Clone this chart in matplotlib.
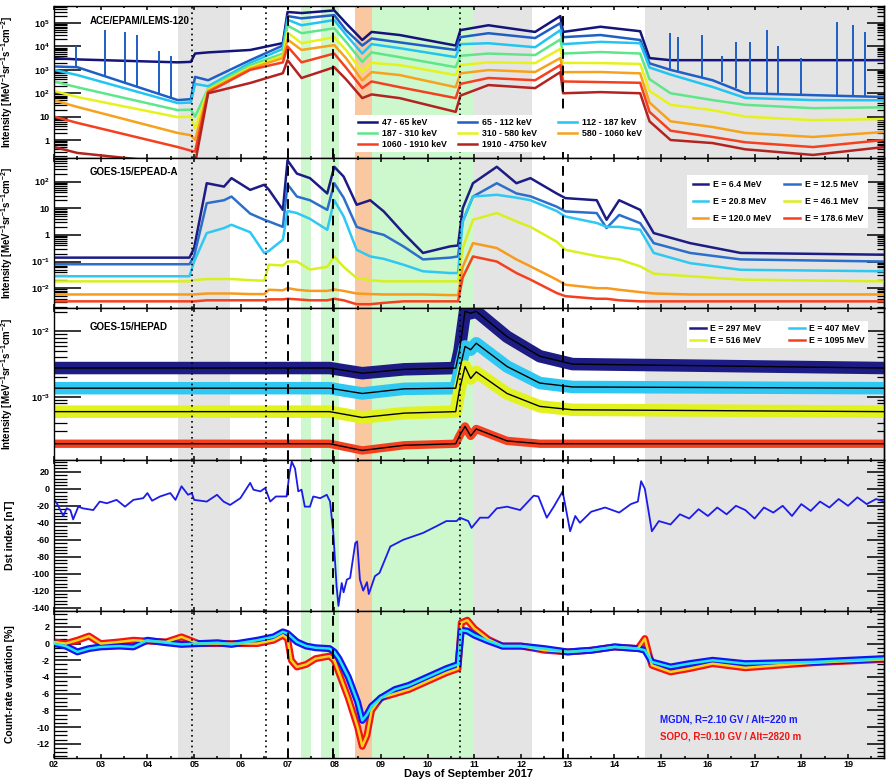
import matplotlib
matplotlib.use('Agg')
import matplotlib.pyplot as plt
from matplotlib.ticker import (FixedLocator, FixedFormatter, LogLocator,
                               MultipleLocator, NullFormatter)

plt.rcParams.update({
    'font.family': ['Liberation Sans', 'DejaVu Sans'],
    'font.weight': 'bold',
    'axes.labelweight': 'bold',
    'axes.unicode_minus': False,
    'mathtext.fontset': 'custom',
    'mathtext.rm': 'Liberation Sans:bold',
    'mathtext.bf': 'Liberation Sans:bold',
    'mathtext.it': 'Liberation Sans:bold',
    'mathtext.default': 'bf',
})

XMIN, XMAX = 2.0, 19.77

# event markers and shaded intervals (days of September 2017)
gray_spans = [(4.66, 5.77), (10.98, 12.23), (14.65, 19.77)]
green_spans = [(7.29, 7.50), (7.72, 8.11), (8.80, 10.98)]
orange_spans = [(8.445, 8.80)]
dotted_days = [4.95, 6.53, 10.69]
dashed_days = [7.02, 7.98, 12.89]

# ---- ACE/EPAM/LEMS-120 ----
ace_days = [2.0, 2.5, 4.65, 4.93, 5.02, 5.3, 6.2, 6.9, 7.0, 7.3, 8.0, 8.25, 8.6,
            8.8, 9.4, 10.6, 10.7, 11.3, 12.3, 12.84, 12.9, 13.7, 14.55, 14.75,
            15.2, 16.1, 16.8, 18.25, 19.77]
ace_labels = ['47 - 65 keV', '65 - 112 keV', '112 - 187 keV', '187 - 310 keV',
              '310 - 580 keV', '580 - 1060 keV', '1060 - 1910 keV', '1910 - 4750 keV']
ace_colors = ['#14147a', '#1f5ec4', '#22c4f2', '#5ee68a',
              '#e6f21e', '#f7a21c', '#f5401f', '#b3231f']
ace_47 = [3200, 2800, 2100, 2200, 5000, 5600, 7100, 14000, 3.0e5, 2.7e5, 3.5e5,
          1.0e5, 19000, 42000, 31000, 11000, 50000, 81000, 42000, 2.0e5, 42000,
          70000, 45000, 3200, 2600, 2600, 2600, 2600, 2600]
ace_65 = [1400, 1300, 51, 56, 500, 360, 2600, 11000, 2.0e5, 1.6e5, 2.2e5, 50000,
          11000, 22000, 15000, 7100, 25000, 37000, 23000, 1.0e5, 25000, 31000,
          19000, 1900, 1000, 360, 100, 83, 69]
ace_112 = [1000, 600, 38, 40, 250, 200, 2000, 7900, 1.4e5, 81000, 1.35e5, 32000,
           5000, 12600, 8500, 3500, 12600, 13800, 9300, 50000, 12600, 15800,
           13800, 1260, 630, 186, 63, 51, 50]
ace_187 = [320, 180, 19, 20, 10, 160, 1600, 5000, 79000, 37000, 60000, 16000,
           2200, 5600, 3500, 1300, 4000, 5000, 4300, 20000, 5000, 5800, 5000,
           400, 100, 51, 32, 23, 25]
ace_310 = [126, 69, 9.5, 10, 3.2, 141, 1260, 4000, 40000, 13800, 25000, 7100,
           810, 2000, 1600, 600, 1600, 2100, 1950, 7900, 2000, 1950, 1800, 126,
           32, 19, 10, 7.1, 7.9]
ace_580 = [50, 26, 2.0, 1.6, 1.0, 126, 1120, 3200, 20000, 7100, 11500, 3200, 355,
           800, 600, 182, 710, 980, 810, 3200, 800, 810, 710, 40, 6.3, 3.6, 2.0,
           1.35, 2.2]
ace_1060 = [10, 5.4, 0.5, 0.35, 0.32, 112, 1000, 2100, 10000, 2100, 5000, 1260,
            166, 320, 182, 62, 250, 450, 360, 1600, 320, 300, 280, 16, 2.5, 1.35,
            0.8, 0.5, 1.0]
ace_1910 = [0.5, 0.28, 0.1, 0.1, 0.1, 100, 275, 720, 2600, 450, 1300, 400, 62, 89,
            62, 16, 79, 224, 166, 800, 100, 112, 100, 6.3, 1.0, 0.74, 0.4, 0.23, 0.5]
ace_spike_days = [2.47, 3.09, 3.52, 3.78, 4.25, 4.5, 15.19, 15.36, 15.88, 16.3,
                  16.6, 16.9, 17.27, 17.5, 18.0, 18.77, 19.1, 19.37]
ace_spike_low = [1300, 540, 280, 190, 93, 63, 1000, 800, 450, 290, 160, 100, 95,
                 93, 88, 80, 76, 73]
ace_spike_high = [10000, 50000, 40000, 32000, 6300, 4000, 37000, 25000, 32000,
                  4000, 16000, 16000, 50000, 10000, 3200, 1.1e5, 80000, 40000]

# ---- GOES-15/EPEAD-A ----
epead_days = [2.0, 4.9, 5.0, 5.27, 5.64, 5.8, 6.2, 6.5, 6.6, 6.9, 7.0, 7.2, 7.48,
              7.85, 8.0, 8.2, 8.48, 8.77, 9.06, 9.48, 9.9, 10.48, 10.65, 10.75,
              10.97, 11.48, 11.9, 12.2, 12.76, 12.95, 13.62, 13.83, 14.1, 14.55,
              14.84, 15.62, 16.7, 19.77]
epead_labels = ['E = 6.4 MeV', 'E = 12.5 MeV', 'E = 20.8 MeV', 'E = 46.1 MeV',
                'E = 120.0 MeV', 'E = 178.6 MeV']
epead_colors = ['#1c1c84', '#2b6fcb', '#2ec8f2', '#d9ef1f', '#f79a1d', '#f5401f']
epead_6 = [0.14, 0.14, 0.32, 87, 65, 135, 49, 76, 50, 8.7, 630, 200, 135, 36, 360,
           155, 13.5, 20, 7.6, 1.17, 0.21, 0.37, 0.4, 10, 87, 360, 87, 135, 36,
           24, 20, 3.7, 20, 8.7, 1.17, 0.49, 0.21, 0.18]
epead_12 = [0.079, 0.079, 0.16, 15.5, 20, 27.5, 6.3, 3.7, 3.2, 2.0, 79, 27.5, 20,
            8.7, 87, 25, 2.0, 1.35, 1.0, 0.37, 0.12, 0.14, 0.155, 3.2, 27.5, 87,
            36, 28, 11.5, 7.6, 6.6, 1.8, 5.6, 2.75, 0.49, 0.21, 0.12, 0.1]
epead_20 = [0.028, 0.028, 0.1, 1.17, 1.8, 2.4, 1.26, 0.21, 0.25, 0.66, 7.9, 6.6,
            4.0, 1.55, 20, 5.0, 0.275, 0.155, 0.126, 0.076, 0.043, 0.037, 0.037,
            3.2, 27.5, 32, 25, 20, 7.9, 4.9, 2.8, 2.0, 2.0, 1.55, 0.21, 0.087,
            0.049, 0.043]
epead_46 = [0.018, 0.018, 0.02, 0.022, 0.022, 0.022, 0.02, 0.019, 0.076, 0.071,
            0.1, 0.1, 0.05, 0.063, 0.155, 0.063, 0.024, 0.02, 0.018, 0.018, 0.018,
            0.018, 0.018, 0.32, 3.7, 6.6, 3.2, 2.0, 0.56, 0.275, 0.16, 0.14, 0.12,
            0.066, 0.035, 0.028, 0.021, 0.018]
epead_120 = [0.0058, 0.0058, 0.0058, 0.0063, 0.0063, 0.0063, 0.006, 0.006, 0.0087,
             0.0083, 0.01, 0.0087, 0.0079, 0.0079, 0.0089, 0.0079, 0.0063, 0.006,
             0.0058, 0.0058, 0.0058, 0.0055, 0.0055, 0.063, 0.49, 0.32, 0.12,
             0.066, 0.021, 0.0135, 0.01, 0.01, 0.0087, 0.0071, 0.0063, 0.0058,
             0.0058, 0.0058]
epead_178 = [0.0032, 0.0032, 0.0032, 0.0035, 0.0035, 0.0035, 0.0035, 0.0035,
             0.0038, 0.0038, 0.004, 0.0038, 0.0035, 0.0035, 0.004, 0.0035, 0.0025,
             0.0025, 0.0028, 0.0032, 0.0032, 0.0032, 0.0032, 0.025, 0.155, 0.1,
             0.037, 0.021, 0.0066, 0.005, 0.004, 0.004, 0.0035, 0.0032, 0.0032,
             0.0032, 0.0032, 0.0032]

# ---- GOES-15/HEPAD ----
hepad_days = [2.0, 7.9, 8.6, 9.5, 10.6, 10.68, 10.8, 10.92, 11.04, 11.7, 12.4,
              13.1, 19.77]
hepad_labels = ['E = 297 MeV', 'E = 407 MeV', 'E = 516 MeV', 'E = 1095 MeV']
hepad_colors = ['#1c1c84', '#2ec8f2', '#e2f21e', '#f5401f']
hepad_297 = [2.75e-3, 2.75e-3, 2.29e-3, 2.63e-3, 2.75e-3, 5.0e-3, 0.0204, 0.019,
             0.0204, 8.3e-3, 4.17e-3, 3.16e-3, 2.75e-3]
hepad_407 = [1.35e-3, 1.35e-3, 1.12e-3, 1.32e-3, 1.35e-3, 2.5e-3, 5.9e-3, 5.25e-3,
             6.6e-3, 2.9e-3, 1.62e-3, 1.41e-3, 1.35e-3]
hepad_516 = [5.9e-4, 5.9e-4, 4.8e-4, 5.6e-4, 5.9e-4, 1.26e-3, 2.9e-3, 1.9e-3,
             2.4e-3, 1.12e-3, 7.1e-4, 6.3e-4, 5.9e-4]
hepad_1095 = [1.9e-4, 1.9e-4, 1.5e-4, 1.8e-4, 1.9e-4, 2.5e-4, 3.5e-4, 2.5e-4,
              3.2e-4, 2.1e-4, 1.9e-4, 1.9e-4, 1.9e-4]

# ---- Dst index ----
dst_days = [2.0, 2.06, 2.2, 2.27, 2.35, 2.41, 2.52, 2.62, 2.84, 2.98, 3.13, 3.34,
            3.52, 3.7, 3.91, 4.0, 4.1, 4.27, 4.49, 4.6, 4.73, 4.87, 4.95, 5.0,
            5.27, 5.49, 5.63, 5.77, 5.99, 6.2, 6.27, 6.42, 6.52, 6.63, 6.75, 6.98,
            7.04, 7.09, 7.16, 7.23, 7.3, 7.37, 7.48, 7.55, 7.7, 7.84, 7.91, 7.98,
            8.05, 8.09, 8.16, 8.2, 8.27, 8.34, 8.45, 8.49, 8.55, 8.62, 8.7, 8.74,
            8.87, 8.97, 9.2, 9.48, 9.69, 9.9, 10.19, 10.4, 10.62, 10.69, 10.87,
            10.94, 11.12, 11.3, 11.48, 11.7, 11.98, 12.27, 12.37, 12.55, 12.7,
            12.89, 13.05, 13.16, 13.26, 13.5, 13.8, 14.1, 14.35, 14.5, 14.57,
            14.65, 14.8, 14.95, 15.2, 15.4, 15.6, 15.8, 16.0, 16.2, 16.4, 16.6,
            16.8, 17.0, 17.2, 17.4, 17.6, 17.8, 18.0, 18.2, 18.4, 18.6, 18.8,
            19.0, 19.2, 19.4, 19.6, 19.77]
dst_nt = [-13, -17, -32, -23, -25, -36, -21, -23, -25, -15, -17, -13, -21, -13,
          -11, -5, -14, -9, -5, -13, 3, -7, -5, -13, -15, -7, -15, -19, -11, 7,
          -1, -3, 1, -15, -9, -9, 18, 32, 24, -3, -1, -21, -21, -9, -11, -7, -15,
          -52, -115, -138, -111, -122, -107, -105, -64, -62, -107, -120, -110,
          -124, -103, -99, -68, -60, -56, -52, -44, -38, -38, -34, -38, -46, -34,
          -34, -23, -21, -25, -8, -9, -34, -21, -3, -50, -32, -40, -27, -22, -28,
          -18, -15, 9, 0, -50, -38, -42, -30, -35, -24, -32, -22, -30, -20, -25,
          -35, -22, -28, -20, -32, -18, -26, -15, -22, -12, -20, -10, -18, -12,
          -15]

# ---- neutron monitors ----
nm_days = [2.0, 2.25, 2.5, 2.75, 3.0, 3.4, 3.7, 4.0, 4.4, 4.73, 5.1, 5.5, 5.8,
           6.35, 6.7, 6.9, 7.0, 7.08, 7.2, 7.4, 7.6, 7.9, 8.0, 8.1, 8.3, 8.5,
           8.6, 8.7, 8.8, 9.0, 9.3, 9.6, 10.0, 10.4, 10.65, 10.72, 10.85, 11.0,
           11.3, 11.6, 12.0, 12.5, 13.0, 13.5, 14.0, 14.5, 14.65, 14.8, 15.2,
           15.6, 16.1, 16.8, 17.5, 18.25, 19.0, 19.77]
sopo_pct = [0.2, 0.0, 0.4, 0.9, 0.0, 0.2, 0.4, 0.3, 0.2, 0.8, 0.0, 0.0, 0.0, 0.0,
            0.4, 1.0, 0.6, -2.0, -2.8, -2.5, -1.8, -1.5, -2.0, -3.5, -6.5, -10.0,
            -12.3, -11.0, -8.0, -6.5, -6.0, -5.5, -4.5, -3.5, -3.0, 2.5, 2.8, 1.8,
            0.5, -0.3, -0.3, -0.8, -1.0, -0.8, -0.4, -0.6, 0.6, -2.6, -3.4, -3.0,
            -2.4, -2.9, -2.6, -2.3, -2.1, -1.9]
mgdn_pct = [0.0, -0.3, -1.0, -0.6, -0.4, -0.3, -0.4, 0.4, 0.1, -0.1, 0.0, 0.1,
            -0.1, 0.4, 0.8, 1.4, 1.2, 0.8, 0.2, -0.3, -0.5, -0.6, -1.0, -1.8,
            -4.0, -7.0, -9.2, -8.5, -7.5, -6.5, -5.5, -5.0, -4.0, -3.0, -2.5, 1.6,
            1.5, 1.0, 0.3, -0.3, -0.3, -0.6, -1.0, -0.8, -0.4, -0.6, -0.8, -2.2,
            -2.8, -2.4, -2.0, -2.4, -2.3, -2.2, -2.0, -1.8]


def decorate(ax):
    ax.set_xlim(XMIN, XMAX)
    for s in ax.spines.values():
        s.set_linewidth(1.0)
    for d0, d1 in gray_spans:
        ax.axvspan(d0, d1, color='#e4e4e4', lw=0, zorder=0)
    for d0, d1 in green_spans:
        ax.axvspan(d0, d1, color='#cdf7cd', lw=0, zorder=0)
    for d0, d1 in orange_spans:
        ax.axvspan(d0, d1, color='#f9c8a0', lw=0, zorder=0)
    for d in dotted_days:
        ax.axvline(d, color='k', ls=(0, (1, 2.2)), lw=1.2, zorder=6)
    for d in dashed_days:
        ax.axvline(d, color='k', ls=(0, (5, 3.5)), lw=1.4, zorder=6)
    ax.xaxis.set_major_locator(MultipleLocator(1))
    ax.xaxis.set_minor_locator(MultipleLocator(0.5))
    ax.tick_params(axis='x', which='major', direction='in', top=True,
                   length=3, width=1.1)
    ax.tick_params(axis='x', which='minor', direction='in', top=True,
                   length=1.6, width=1.1)


def left_ticks(ax):
    # set after the scale, ROOT style long ticks
    ax.tick_params(axis='y', which='major', direction='in', length=19.5,
                   width=1.1, labelsize=6.5, pad=3)
    ax.tick_params(axis='y', which='minor', direction='in', length=9.5, width=0.9)


def right_ticks(ax, major, minor):
    sec = ax.secondary_yaxis('right')
    sec.yaxis.set_major_locator(major)
    sec.yaxis.set_minor_locator(minor)
    sec.yaxis.set_major_formatter(NullFormatter())
    sec.yaxis.set_minor_formatter(NullFormatter())
    sec.tick_params(which='major', direction='in', length=12, width=1.1)
    sec.tick_params(which='minor', direction='in', length=5, width=0.9)
    sec.spines['right'].set_linewidth(1.0)


def log_axis(ax, lo, hi, majors, labels):
    ax.set_yscale('log')
    ax.set_ylim(lo, hi)
    ax.yaxis.set_major_locator(FixedLocator(majors))
    ax.yaxis.set_major_formatter(FixedFormatter(labels))
    ax.yaxis.set_minor_locator(LogLocator(base=10, subs=range(2, 10), numticks=30))
    ax.yaxis.set_minor_formatter(NullFormatter())
    left_ticks(ax)
    right_ticks(ax, FixedLocator(majors),
                LogLocator(base=10, subs=range(2, 10), numticks=30))


def ordered(handles, ncol):
    # legend fills columns first, the picture reads row by row
    return [handles[i] for c in range(ncol) for i in range(c, len(handles), ncol)]


def white_legend(leg):
    leg.get_frame().set_facecolor('white')
    leg.get_frame().set_edgecolor('none')
    leg.get_frame().set_alpha(1)
    leg.set_zorder(10)


fig = plt.figure(figsize=(8.86, 7.84), dpi=100)
gs = fig.add_gridspec(5, 1, left=54 / 886, right=884 / 886, top=1 - 6 / 784,
                      bottom=1 - 758 / 784, hspace=0,
                      height_ratios=[152, 150, 152, 151, 147])
ax1 = fig.add_subplot(gs[0])
axes = [ax1] + [fig.add_subplot(gs[i], sharex=ax1) for i in range(1, 5)]
ax1, ax2, ax3, ax4, ax5 = axes
ylab_x = -0.047
ilabel = r'Intensity [MeV$^{-1}$sr$^{-1}$s$^{-1}$cm$^{-2}$]'

# panel 1
decorate(ax1)
log_axis(ax1, 0.17, 5.4e5, [1, 10, 100, 1e3, 1e4, 1e5],
         ['1', '10', '$10^{2}$', '$10^{3}$', '$10^{4}$', '$10^{5}$'])
handles = []
for vals, lab, col in zip([ace_47, ace_65, ace_112, ace_187, ace_310, ace_580,
                           ace_1060, ace_1910], ace_labels, ace_colors):
    h, = ax1.plot(ace_days, vals, color=col, lw=1.8, label=lab, zorder=2)
    handles.append(h)
    if lab == '65 - 112 keV':
        ax1.vlines(ace_spike_days, ace_spike_low, ace_spike_high, color=col,
                   lw=1.4, zorder=2)
leg = ax1.legend(handles=ordered(handles, 3), ncol=3, loc='lower left',
                 bbox_to_anchor=(0.363, 0.04, 0.349, 0.23), mode='expand',
                 fontsize=6.3, frameon=True, fancybox=False, handlelength=2.2,
                 handletextpad=0.6, borderaxespad=0, labelspacing=0.25,
                 borderpad=0.3)
white_legend(leg)
ax1.text(0.043, 0.90, 'ACE/EPAM/LEMS-120', transform=ax1.transAxes,
         fontsize=7, fontweight='bold', va='center', zorder=10)
ax1.set_ylabel(ilabel, fontsize=7)
ax1.yaxis.set_label_coords(ylab_x, 0.5)

# panel 2
decorate(ax2)
log_axis(ax2, 1.8e-3, 770, [1e-2, 1e-1, 1, 10, 100],
         ['$10^{-2}$', '$10^{-1}$', '1', '10', '$10^{2}$'])
handles = []
for vals, lab, col in zip([epead_6, epead_12, epead_20, epead_46, epead_120,
                           epead_178], epead_labels, epead_colors):
    h, = ax2.plot(epead_days, vals, color=col, lw=1.8, label=lab, zorder=2)
    handles.append(h)
leg = ax2.legend(handles=ordered(handles, 2), ncol=2, loc='lower left',
                 bbox_to_anchor=(0.763, 0.533, 0.218, 0.373), mode='expand',
                 fontsize=6.3, frameon=True, fancybox=False, handlelength=1.8,
                 handletextpad=0.5, borderaxespad=0, labelspacing=0.9,
                 borderpad=0.6)
white_legend(leg)
ax2.text(0.043, 0.907, 'GOES-15/EPEAD-A', transform=ax2.transAxes,
         fontsize=7, fontweight='bold', va='center', zorder=10)
ax2.set_ylabel(ilabel, fontsize=7)
ax2.yaxis.set_label_coords(ylab_x, 0.5)

# panel 3
decorate(ax3)
log_axis(ax3, 1.07e-4, 0.0229, [1e-3, 1e-2], ['$10^{-3}$', '$10^{-2}$'])
handles = []
for vals, lab, col in zip([hepad_297, hepad_407, hepad_516, hepad_1095],
                          hepad_labels, hepad_colors):
    ax3.plot(hepad_days, vals, color=col, lw=9 if col != '#f5401f' else 6,
             zorder=2, solid_joinstyle='round')
    ax3.plot(hepad_days, vals, color='k', lw=1.0, zorder=3)
    h, = ax3.plot([], [], color=col, lw=1.8, label=lab)
    handles.append(h)
leg = ax3.legend(handles=ordered(handles, 2), ncol=2, loc='lower left',
                 bbox_to_anchor=(0.763, 0.737, 0.218, 0.19), mode='expand',
                 fontsize=6.3, frameon=True, fancybox=False, handlelength=1.8,
                 handletextpad=0.5, borderaxespad=0, labelspacing=0.3,
                 borderpad=0.35)
white_legend(leg)
ax3.text(0.043, 0.875, 'GOES-15/HEPAD', transform=ax3.transAxes,
         fontsize=7, fontweight='bold', va='center', zorder=10)
ax3.set_ylabel(ilabel, fontsize=7)
ax3.yaxis.set_label_coords(ylab_x, 0.5)

# panel 4
decorate(ax4)
ax4.set_ylim(-144, 34)
ax4.yaxis.set_major_locator(MultipleLocator(20))
ax4.yaxis.set_minor_locator(MultipleLocator(4))
left_ticks(ax4)
right_ticks(ax4, MultipleLocator(20), MultipleLocator(4))
ax4.plot(dst_days, dst_nt, color='#1c1ce8', lw=1.3, zorder=2)
ax4.set_ylabel('Dst index [nT]', fontsize=7.5)
ax4.yaxis.set_label_coords(ylab_x, 0.5)

# panel 5
decorate(ax5)
ax5.set_ylim(-13.7, 3.9)
ax5.yaxis.set_major_locator(MultipleLocator(2))
ax5.yaxis.set_minor_locator(MultipleLocator(0.5))
left_ticks(ax5)
right_ticks(ax5, MultipleLocator(2), MultipleLocator(0.5))
ax5.plot(nm_days, sopo_pct, color='#f41414', lw=5, zorder=2)
ax5.plot(nm_days, mgdn_pct, color='#1414f0', lw=5, zorder=2)
ax5.plot(nm_days, sopo_pct, color='#f2d21a', lw=1.8, zorder=3)
ax5.plot(nm_days, mgdn_pct, color='#1ee6f2', lw=1.8, zorder=3)
ax5.text(0.73, 0.26, 'MGDN, R=2.10 GV / Alt=220 m', transform=ax5.transAxes,
         color='#1a1aff', fontsize=7, fontweight='bold', va='center')
ax5.text(0.73, 0.143, 'SOPO, R=0.10 GV / Alt=2820 m', transform=ax5.transAxes,
         color='#f41414', fontsize=7, fontweight='bold', va='center')
ax5.set_ylabel('Count-rate variation [%]', fontsize=7.5)
ax5.yaxis.set_label_coords(ylab_x, 0.5)

day_ticks = list(range(2, 20))
ax5.set_xticks(day_ticks)
ax5.set_xticklabels(['%02d' % d for d in day_ticks], fontsize=6.5)
ax5.tick_params(axis='x', which='major', pad=1.5)
for ax in axes[:4]:
    ax.tick_params(axis='x', labelbottom=False)
ax5.set_xlabel('Days of September 2017', fontsize=8)
ax5.xaxis.set_label_coords(0.5, -0.072)

fig.savefig('out.png', dpi=100)
